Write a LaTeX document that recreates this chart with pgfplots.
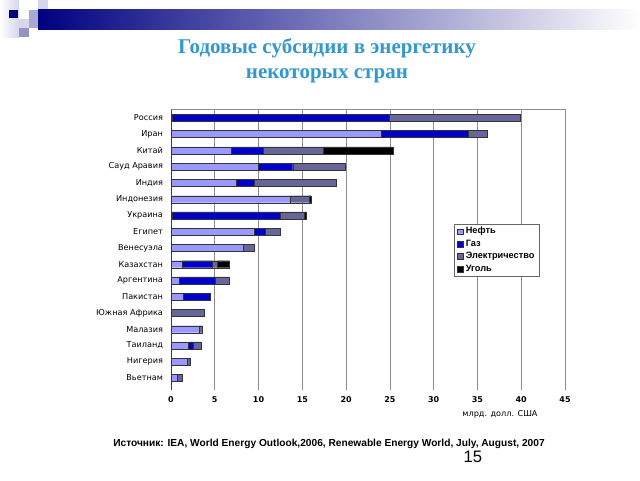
\documentclass[border=0pt]{standalone}
\usepackage{pgfplots}
\pgfplotsset{compat=1.18}
\usepackage{fontspec}
\setmainfont{Liberation Sans}
\newfontfamily\titlefont{Liberation Serif}
\newfontfamily\labfont{DejaVu Sans}
\definecolor{oil}{HTML}{9999FF}
\definecolor{gas}{HTML}{0000CC}
\definecolor{elec}{HTML}{666699}
\definecolor{coal}{HTML}{000000}
\definecolor{titlec}{RGB}{51,153,204}
\definecolor{navy}{HTML}{000080}
\definecolor{sqa}{HTML}{D6D6EC}
\definecolor{sqb}{HTML}{A8A8D2}
\definecolor{sqc}{HTML}{9494C4}

\begin{document}
\begin{tikzpicture}
\begin{scope}[x=0.75pt,y=-0.75pt,yshift=360pt]
  \fill[white] (0,0) rectangle (640,480);
  \useasboundingbox (0,0) rectangle (640,480);
  % header decoration
  \shade[left color=white, right color=sqa] (0,0) rectangle (19,37);
  \shade[left color=navy, right color=white] (38,9) rectangle (640,29);
  \fill[navy] (9,10) rectangle (18,18);
  \fill[sqa] (38,0) rectangle (48,9);
  \fill[sqb] (29,10) rectangle (38,19);
  \fill[sqa] (19,19) rectangle (29,28);
  \fill[sqb] (29,19) rectangle (38,28);
  \fill[sqc] (19,28) rectangle (29,37);
  % title
  \node[font=\titlefont\bfseries\fontsize{15.75}{18.75}\selectfont, text=titlec, align=center] at (327,61)
    {Годовые субсидии в энергетику\\некоторых стран};
  % axis unit label
  \node[font=\labfont\fontsize{6.1}{7}\selectfont] at (500,414) {млрд. долл. США};
  % source
  \node[font=\bfseries\fontsize{7.63}{9}\selectfont] at (329,444)
    {Источник: IEA, World Energy Outlook,2006, Renewable Energy World, July, August, 2007};
  \node[font=\fontsize{12.5}{14}\selectfont] at (473,457) {15};
\end{scope}

\begin{axis}[
  at={(128.25pt,67.5pt)}, anchor=south west,
  scale only axis, width=295.5pt, height=210.75pt,
  xbar stacked, bar width=5.25pt,
  xmin=0, xmax=45, ymin=-0.74, ymax=16.55,
  xtick={0,5,...,45},
  ytick={0,...,16},
  yticklabels={Вьетнам,Нигерия,Таиланд,Малазия,Южная Африка,Пакистан,Аргентина,Казахстан,Венесуэла,Египет,Украина,Индонезия,Индия,Сауд Аравия,Китай,Иран,Россия},
  xmajorgrids, grid style={black!45, line width=0.5pt},
  axis line style={draw=none},
  major tick length=0pt,
  /pgf/number format/assume math mode=true,
  xticklabel style={font=\labfont\bfseries\fontsize{6}{7}\selectfont, yshift=-1.5pt},
  yticklabel style={font=\labfont\fontsize{6.1}{7}\selectfont, xshift=-2.5pt},
  clip=false,
  every axis plot/.append style={draw=black!80, line width=0.3pt},
  area legend,
  legend cell align=left,
  legend style={at={(0.718,0.591)}, anchor=north west, draw=black!60, line width=0.5pt,
    font=\bfseries\fontsize{6.9}{8}\selectfont, row sep=0pt, inner xsep=2pt, inner ysep=0.8pt,
    nodes={inner ysep=1.5pt}},
  legend image code/.code={\draw[#1] (0pt,-2.2pt) rectangle (4.4pt,2.2pt);},
]
\addplot[fill=oil] coordinates {
 (0.7,0) (1.8,1) (2.0,2) (3.2,3) (0,4) (1.4,5) (0.9,6) (1.3,7) (8.2,8) (9.45,9)
 (0.1,10) (13.6,11) (7.4,12) (10.0,13) (6.9,14) (24.0,15) (0.1,16)};
\addplot[fill=gas] coordinates {
 (0,0) (0,1) (0.55,2) (0,3) (0,4) (3.05,5) (4.2,6) (3.4,7) (0,8) (1.35,9)
 (12.4,10) (0,11) (2.1,12) (3.9,13) (3.6,14) (9.9,15) (24.8,16)};
\addplot[fill=elec] coordinates {
 (0.6,0) (0.35,1) (0.85,2) (0.35,3) (3.75,4) (0,5) (1.5,6) (0.6,7) (1.3,8) (1.7,9)
 (2.7,10) (2.15,11) (9.4,12) (6.0,13) (6.85,14) (2.2,15) (15.0,16)};
\addplot[fill=coal] coordinates {
 (0,0) (0,1) (0,2) (0,3) (0,4) (0,5) (0,6) (1.4,7) (0,8) (0,9)
 (0.2,10) (0.25,11) (0,12) (0,13) (8.05,14) (0,15) (0,16)};
\legend{Нефть,Газ,Электричество,Уголь}
\draw[black!45, line width=0.5pt] (rel axis cs:0,1) -- (rel axis cs:1,1) -- (rel axis cs:1,0);
\draw[black!75, line width=0.5pt] (rel axis cs:0,0) -- (rel axis cs:0,1);
\end{axis}
\end{tikzpicture}
\end{document}
